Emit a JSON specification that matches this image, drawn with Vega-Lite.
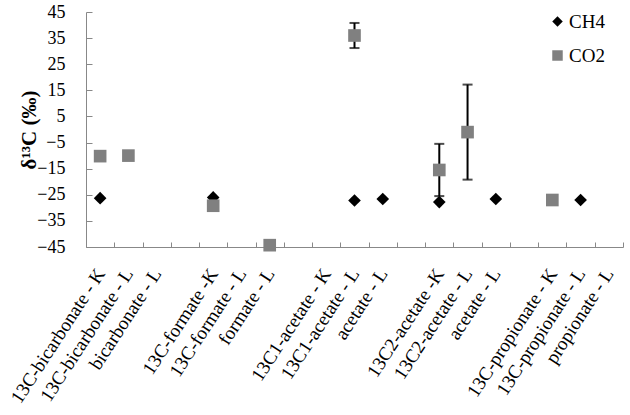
{
  "$schema": "https://vega.github.io/schema/vega-lite/v6.json",
  "width": 537,
  "height": 235,
  "autosize": {"type": "none"},
  "padding": {"left": 86, "top": 12, "right": 7, "bottom": 168},
  "config": {
    "view": {"stroke": null},
    "font": "Liberation Serif",
    "axis": {"grid": false, "domainColor": "#888888", "tickColor": "#888888", "labelColor": "black", "labelFont": "Liberation Serif", "titleFont": "Liberation Serif", "titleColor": "black"},
    "legend": {"labelFont": "Liberation Serif", "labelColor": "black"}
  },
  "data": {
    "values": [
      {"pos": 1, "series": "CH4", "value": -26.3},
      {"pos": 1, "series": "CO2", "value": -10.2},
      {"pos": 2, "series": "CO2", "value": -10.0},
      {"pos": 5, "series": "CH4", "value": -26.0},
      {"pos": 5, "series": "CO2", "value": -29.2},
      {"pos": 7, "series": "CO2", "value": -44.3},
      {"pos": 10, "series": "CO2", "value": 36.0, "lo": 31.2, "hi": 40.8},
      {"pos": 10, "series": "CH4", "value": -27.2},
      {"pos": 11, "series": "CH4", "value": -26.6},
      {"pos": 13, "series": "CH4", "value": -27.8},
      {"pos": 13, "series": "CO2", "value": -15.5, "lo": -25.5, "hi": -5.5},
      {"pos": 14, "series": "CO2", "value": -1.0, "lo": -19.2, "hi": 17.2},
      {"pos": 15, "series": "CH4", "value": -26.6},
      {"pos": 17, "series": "CO2", "value": -27.0},
      {"pos": 18, "series": "CH4", "value": -27.0}
    ]
  },
  "encoding": {
    "x": {
      "field": "pos",
      "type": "ordinal",
      "scale": {"type": "band", "domain": [1,2,3,4,5,6,7,8,9,10,11,12,13,14,15,16,17,18,19], "paddingInner": 0, "paddingOuter": 0},
      "axis": {
        "title": null,
        "tickBand": "extent",
        "tickSize": -5,
        "labelAngle": -57,
        "labelAlign": "right",
        "labelBaseline": "middle",
        "labelFontSize": 19,
        "labelPadding": 28,
        "labelOverlap": false,
        "labelLimit": 400,
        "labelExpr": "['13C-bicarbonate - K','13C-bicarbonate - L','bicarbonate - L','','13C-formate -K','13C-formate - L','formate - L','','13C1-acetate - K','13C1-acetate - L','acetate - L','','13C2-acetate -K','13C2-acetate - L','acetate - L','','13C-propionate - K','13C-propionate - L','propionate - L'][datum.value - 1]"
      }
    },
    "y": {
      "type": "quantitative",
      "scale": {"domain": [-45, 45], "nice": false, "zero": false},
      "axis": {
        "title": "δ¹³C (‰)",
        "titleFontSize": 21,
        "titleFontWeight": "bold",
        "titleX": -57,
        "titleBaseline": "middle",
        "values": [-45, -35, -25, -15, -5, 5, 15, 25, 35, 45],
        "tickSize": -6,
        "labelFontSize": 18,
        "labelPadding": 27
      }
    }
  },
  "layer": [
    {
      "transform": [{"filter": "isValid(datum.lo)"}],
      "mark": {"type": "rule", "color": "black", "strokeWidth": 2},
      "encoding": {
        "y": {"field": "lo"},
        "y2": {"field": "hi"}
      }
    },
    {
      "transform": [{"filter": "isValid(datum.lo)"}],
      "mark": {"type": "tick", "color": "black", "thickness": 2, "size": 10},
      "encoding": {
        "y": {"field": "lo"}
      }
    },
    {
      "transform": [{"filter": "isValid(datum.hi)"}],
      "mark": {"type": "tick", "color": "black", "thickness": 2, "size": 10},
      "encoding": {
        "y": {"field": "hi"}
      }
    },
    {
      "mark": {"type": "point", "filled": true, "opacity": 1},
      "encoding": {
        "y": {"field": "value"},
        "color": {
          "field": "series",
          "type": "nominal",
          "scale": {"domain": ["CH4", "CO2"], "range": ["#000000", "#808080"]},
          "legend": {"title": null, "orient": "none", "legendX": 462, "legendY": 0, "labelFontSize": 19, "labelFont": "Liberation Serif", "rowPadding": 14, "symbolSize": 110, "labelOffset": 2}
        },
        "shape": {
          "field": "series",
          "type": "nominal",
          "scale": {"domain": ["CH4", "CO2"], "range": ["diamond", "square"]}
        },
        "size": {"value": 160}
      }
    }
  ]
}
